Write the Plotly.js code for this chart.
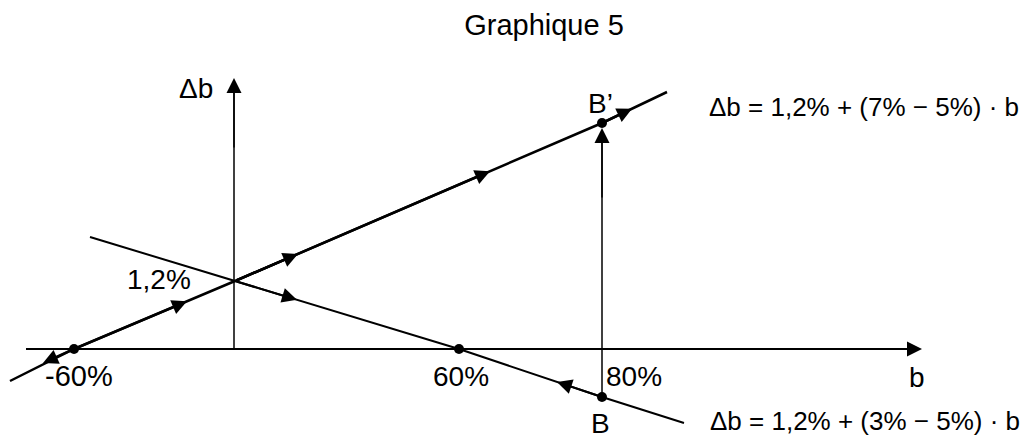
<!DOCTYPE html>
<html>
<head>
<meta charset="utf-8">
<script src="https://cdn.plot.ly/plotly-3.0.1.min.js"></script>
<style>html,body{margin:0;padding:0;background:#fff;}#chart{width:1025px;height:439px;}</style>
</head>
<body>
<div id="chart"></div>
<script>
// ---- Data (schematic diagram units: horizontal = b, vertical = Δb) ----
const titleText = 'Graphique 5';
const bTickLabels = ['-60%', '60%', '80%'];
const bTickPos = [-160, 225, 368];
const interceptLabel = '1,2%';
const interceptY = 68;

// upper line: Δb = 1,2% + (7% − 5%)·b
const upperX = [-224, -160, 1, 368, 433];
const upperY = [-32, 0, 68, 226, 257];
const upperEq = 'Δb = 1,2% + (7% − 5%) · b';

// lower line: Δb = 1,2% + (3% − 5%)·b
const lowerX = [-144, 1, 225, 368, 450];
const lowerY = [112, 68, 0, -48, -74];
const lowerEq = 'Δb = 1,2% + (3% − 5%) · b';

// points
const dotX = [-160, 225, 368, 368];
const dotY = [0, 0, -48, 226];
const pointLabels = ['B', 'B’'];

// axes
const xAxisX = [-208, 676];
const xAxisY = [0, 0];
const yAxisX = [0, 0];
const yAxisY = [0, 262];
const axisLabels = ['b', 'Δb'];

// B -> B' vertical move
const vertX = [368, 368];
const vertY = [-48, 216];

// arrow heads: tip position and tail (point behind on the same line)
const arrowTipX  = [-191, -47, 64, 256, 398, 63, 323, 368, 688, 0];
const arrowTipY  = [-14, 47.7, 95.1, 177.8, 240.3, 49.2, -32.9, 221, 0, 271];
const arrowTailX = [-160, -160, 1, 1, 368, 1, 368, 368, 600, 0];
const arrowTailY = [0, 0, 68, 68, 226, 68, -48, 150, 0, 200];
const arrowWidth = [2.5, 2.5, 2.5, 2.5, 2.5, 2, 2, 1.5, 2, 1.5];

const FONT = 'Liberation Sans, Arial, sans-serif';

const traces = [
  {x: xAxisX, y: xAxisY, mode: 'lines', line: {color: '#000', width: 2}},
  {x: yAxisX, y: yAxisY, mode: 'lines', line: {color: '#000', width: 1.5}},
  {x: vertX, y: vertY, mode: 'lines', line: {color: '#000', width: 1.5}},
  {x: upperX, y: upperY, mode: 'lines', line: {color: '#000', width: 2.5}},
  {x: lowerX, y: lowerY, mode: 'lines', line: {color: '#000', width: 2}},
  {x: dotX, y: dotY, mode: 'markers', marker: {color: '#000', size: 10}}
];

const ann = [];
for (let i = 0; i < arrowTipX.length; i++) {
  ann.push({
    x: arrowTipX[i], y: arrowTipY[i], xref: 'x', yref: 'y',
    ax: arrowTailX[i], ay: arrowTailY[i], axref: 'x', ayref: 'y',
    text: '', showarrow: true, arrowhead: 2,
    arrowwidth: arrowWidth[i], arrowsize: 3 / arrowWidth[i], arrowcolor: '#000'
  });
}
function label(text, px, py, xanchor, size) {
  ann.push({text: text, x: px, y: py, xref: 'x', yref: 'y', showarrow: false,
    xanchor: xanchor || 'center', yanchor: 'middle',
    font: {family: FONT, size: size || 28, color: '#000'}});
}
// tick labels along b axis
label(bTickLabels[0], bTickPos[0] + 5, -27, 'center', 29);
label(bTickLabels[1], bTickPos[1] + 2, -27);
label(bTickLabels[2], bTickPos[2] + 32, -27);
label(axisLabels[0], 683, -28);
label(axisLabels[1], -38, 261);
label(interceptLabel, -41, interceptY + 2, 'right');
label(pointLabels[0], 366, -74);
label(pointLabels[1], 366, 246);
label(upperEq, 473, 242, 'left', 26);
label(lowerEq, 474, -72, 'left', 26);

const layout = {
  width: 1025, height: 439,
  margin: {l: 0, r: 0, t: 0, b: 0},
  paper_bgcolor: '#fff', plot_bgcolor: '#fff',
  showlegend: false,
  title: {text: titleText, x: 544 / 1025, xanchor: 'center', y: 1 - 25 / 439, yanchor: 'middle',
          font: {family: FONT, size: 29, color: '#000'}},
  xaxis: {range: [-234, 791], visible: false, fixedrange: true},
  yaxis: {range: [-90, 349], visible: false, fixedrange: true},
  annotations: ann
};

Plotly.newPlot('chart', traces, layout, {staticPlot: true, displayModeBar: false});
</script>
</body>
</html>
